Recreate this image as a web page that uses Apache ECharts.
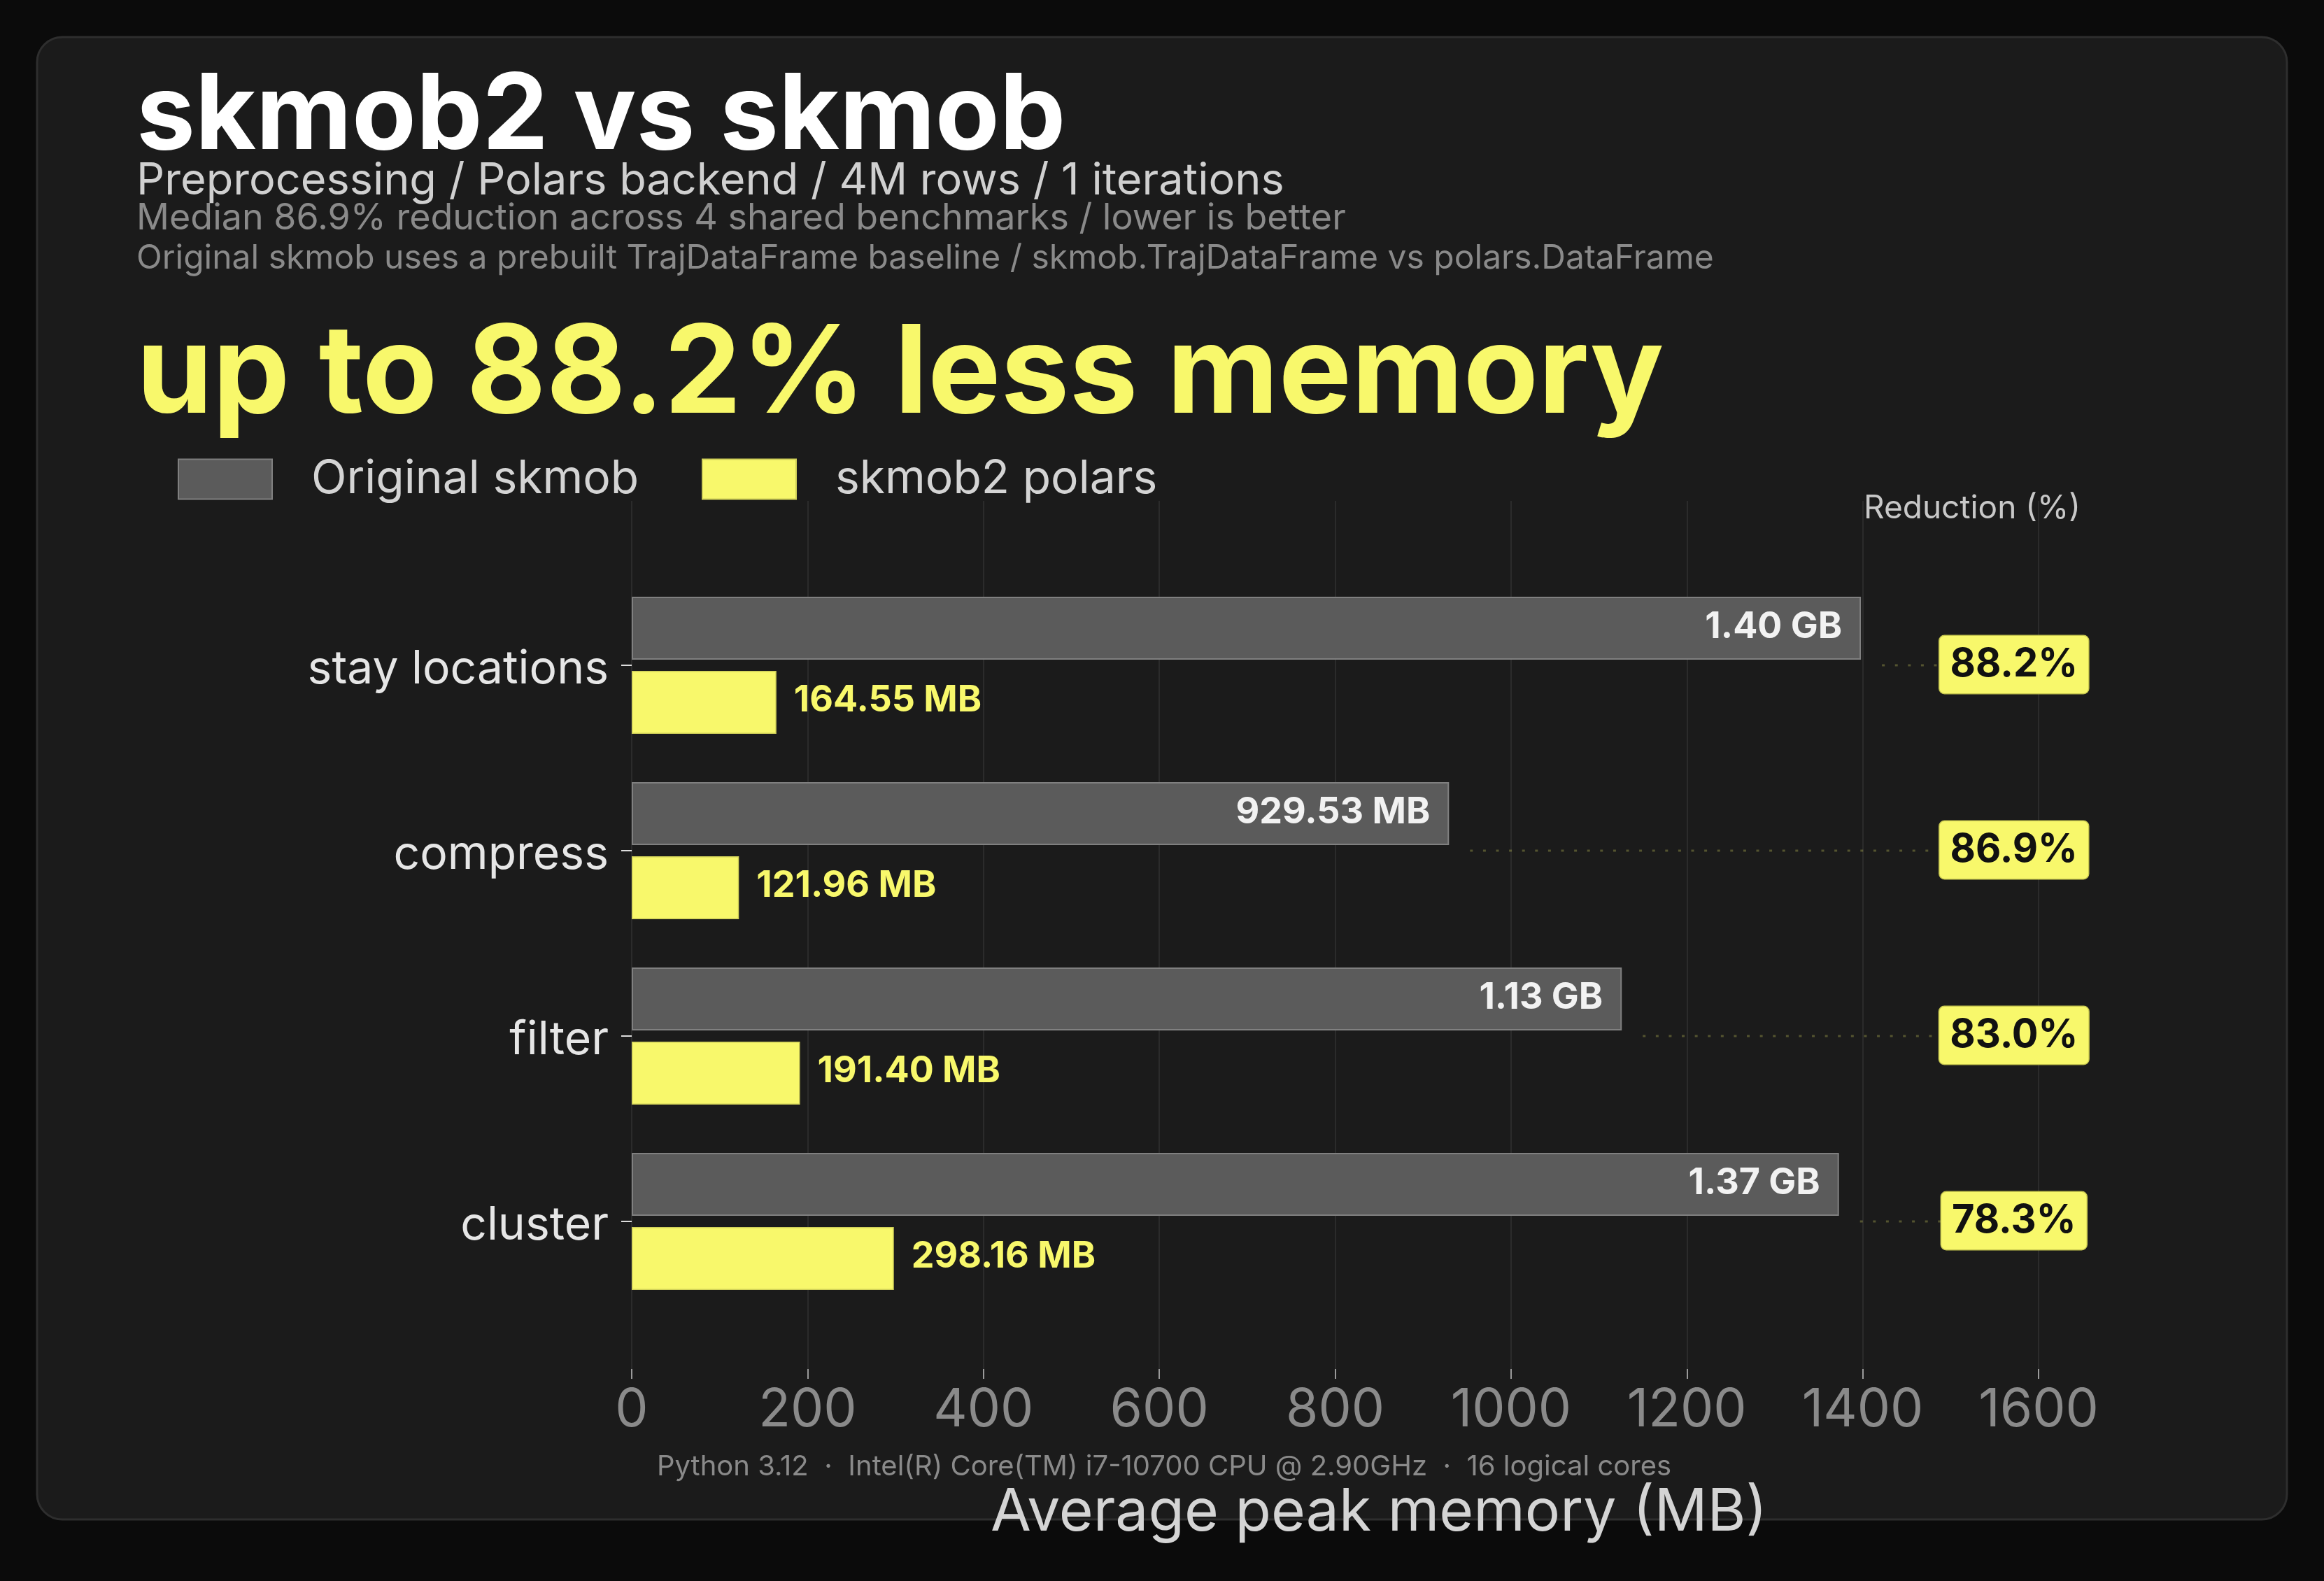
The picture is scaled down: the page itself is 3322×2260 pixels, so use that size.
<!DOCTYPE html>
<html>
<head>
<meta charset="utf-8">
<script src="https://cdn.jsdelivr.net/npm/echarts@6/dist/echarts.min.js"></script>
<style>
  html, body { margin: 0; padding: 0; background: #0b0b0b; }
  #chart { width: 3322px; height: 2260px; }
</style>
</head>
<body>
<div id="chart"></div>
<script>
// ---- data ----
const categories = ['stay locations', 'compress', 'filter', 'cluster'];
const originalMB = [1398, 929.53, 1126, 1373];
const polarsMB = [164.55, 121.96, 191.40, 298.16];
const reductionPct = [88.2, 86.9, 83.0, 78.3];
const xTicks = [0, 200, 400, 600, 800, 1000, 1200, 1400, 1600];
const seriesNames = ['Original skmob', 'skmob2 polars'];

// ---- style / layout constants ----
const FONT = 'Inter, "Noto Sans", sans-serif';
const YELLOW = '#f8f86b';
const GREY = '#5b5b5b';
const BADGE_X = 1572; // x position (axis units) of reduction badges column

function fmtMem(v) {
  return v >= 1000 ? (v / 1000).toFixed(2) + ' GB' : v.toFixed(2) + ' MB';
}

const chart = echarts.init(document.getElementById('chart'), null, { renderer: 'canvas' });

const gridLeft = 903, gridRight = 3322 - 2914;

const legendCommon = {
  top: 652, padding: 0, selectedMode: false, icon: 'rect',
  itemWidth: 134, itemHeight: 57,
  textStyle: { fontFamily: FONT, fontSize: 66, color: '#d4d4d4', padding: [0, 0, 0, 51] }
};

const option = {
  backgroundColor: '#0b0b0b',
  animation: false,
  textStyle: { fontFamily: FONT },
  grid: [
    { left: gridLeft, right: gridRight, top: 818.5, bottom: 2260 - 1878.5 },
    { left: gridLeft, right: gridRight, top: 716, bottom: 2260 - 1957 }
  ],
  legend: [
    Object.assign({ left: 254, data: [seriesNames[0]] }, legendCommon),
    Object.assign({ left: 1003, data: [seriesNames[1]] }, legendCommon)
  ],
  xAxis: [
    { gridIndex: 0, type: 'value', min: xTicks[0], max: xTicks[xTicks.length - 1], show: false },
    {
      gridIndex: 1, type: 'value', min: xTicks[0], max: xTicks[xTicks.length - 1],
      interval: xTicks[1] - xTicks[0],
      axisLine: { show: false },
      axisTick: { show: true, length: 14, lineStyle: { color: '#9a9a9a', width: 2 } },
      axisLabel: { fontFamily: FONT, fontSize: 75, color: '#8a8a8a', margin: 22, formatter: v => String(v) },
      splitLine: { show: true, lineStyle: { color: '#2b2b2b', width: 2 } }
    }
  ],
  yAxis: [
    {
      gridIndex: 0, type: 'category', data: categories, inverse: true,
      axisLine: { show: false },
      axisTick: { show: true, alignWithLabel: true, length: 15, lineStyle: { color: '#dddddd', width: 2 } },
      axisLabel: {
        margin: 33,
        formatter: v => '{c|' + v + '}',
        rich: { c: { fontFamily: FONT, fontSize: 66, color: '#e6e6e6', padding: [12, 0, 0, 0] } }
      },
      splitLine: { show: false }
    },
    { gridIndex: 1, type: 'value', show: false }
  ],
  series: [
    {
      name: seriesNames[0], type: 'bar', xAxisIndex: 0, yAxisIndex: 0,
      data: originalMB, barWidth: 90, barGap: '17.8%',
      itemStyle: { color: GREY, borderColor: '#808080', borderWidth: 2 },
      label: {
        show: true, position: 'insideRight', distance: 27, offset: [0, -2],
        formatter: p => fmtMem(p.value),
        fontFamily: FONT, fontSize: 52, fontWeight: 'bold', color: '#f2f2f2'
      },
      z: 3
    },
    {
      name: seriesNames[1], type: 'bar', xAxisIndex: 0, yAxisIndex: 0,
      data: polarsMB, barWidth: 90, barGap: '17.8%',
      itemStyle: { color: YELLOW, borderColor: '#cfcf58', borderWidth: 1.5 },
      label: {
        show: true, position: 'right', distance: 25, offset: [0, -3],
        formatter: p => fmtMem(p.value),
        fontFamily: FONT, fontSize: 52, fontWeight: 'bold', color: YELLOW
      },
      z: 3
    },
    {
      name: 'reduction', type: 'custom', xAxisIndex: 0, yAxisIndex: 0,
      data: categories.map((c, i) => [originalMB[i], i, reductionPct[i]]),
      encode: { x: 0, y: 1 },
      z: 4,
      renderItem: function (params, api) {
        const orig = api.value(0), idx = api.value(1), red = api.value(2);
        const p = api.coord([orig, idx]);
        const b = api.coord([BADGE_X, idx]);
        return {
          type: 'group',
          children: [
            {
              type: 'line',
              shape: { x1: p[0] + 30, y1: p[1], x2: b[0] - 60, y2: p[1] },
              style: { stroke: 'rgba(248,248,107,0.26)', lineWidth: 3, lineDash: [4, 14.6] }
            },
            {
              type: 'text', x: b[0], y: p[1] - 1,
              style: {
                text: red.toFixed(1) + '%',
                align: 'center', verticalAlign: 'middle',
                fontFamily: FONT, fontSize: 56, fontWeight: 'bold', fill: '#111111',
                backgroundColor: YELLOW, borderColor: '#c8c850', borderWidth: 1.5,
                borderRadius: 7, padding: [13, 15, 13, 15]
              }
            }
          ]
        };
      }
    }
  ],
  graphic: [
    {
      type: 'rect', z: -10, silent: true,
      shape: { x: 53, y: 53, width: 3216, height: 2119, r: 36 },
      style: { fill: '#1b1b1b', stroke: '#2e2e2e', lineWidth: 3 }
    },
    { type: 'text', x: 195, y: 168, style: { text: 'skmob2 vs skmob', font: 'bold 150px ' + FONT, fill: '#ffffff', align: 'left', verticalAlign: 'middle' } },
    { type: 'text', x: 195, y: 259, style: { text: 'Preprocessing / Polars backend / 4M rows / 1 iterations', font: '63px ' + FONT, fill: '#d0d0d0', align: 'left', verticalAlign: 'middle' } },
    { type: 'text', x: 195, y: 312, style: { text: 'Median 86.9% reduction across 4 shared benchmarks / lower is better', font: '52px ' + FONT, fill: '#8a8a8a', align: 'left', verticalAlign: 'middle' } },
    { type: 'text', x: 195, y: 370, style: { text: 'Original skmob uses a prebuilt TrajDataFrame baseline / skmob.TrajDataFrame vs polars.DataFrame', font: '48px ' + FONT, fill: '#8a8a8a', align: 'left', verticalAlign: 'middle' } },
    { type: 'text', x: 195, y: 537, style: { text: 'up to 88.2% less memory', font: 'bold 175px ' + FONT, fill: YELLOW, align: 'left', verticalAlign: 'middle' } },
    { type: 'text', x: 2664, y: 727, style: { text: 'Reduction (%)', font: '46px ' + FONT, fill: '#c8c8c8', align: 'left', verticalAlign: 'middle' } },
    { type: 'text', x: 939, y: 2097, style: { text: 'Python 3.12  \u00b7  Intel(R) Core(TM) i7-10700 CPU @ 2.90GHz  \u00b7  16 logical cores', font: '40px ' + FONT, fill: '#8a8a8a', align: 'left', verticalAlign: 'middle' } },
    { type: 'text', x: 1971, y: 2163, style: { text: 'Average peak memory (MB)', font: '84px ' + FONT, fill: '#d4d4d4', align: 'center', verticalAlign: 'middle' } }
  ]
};

chart.setOption(option);
</script>
</body>
</html>
